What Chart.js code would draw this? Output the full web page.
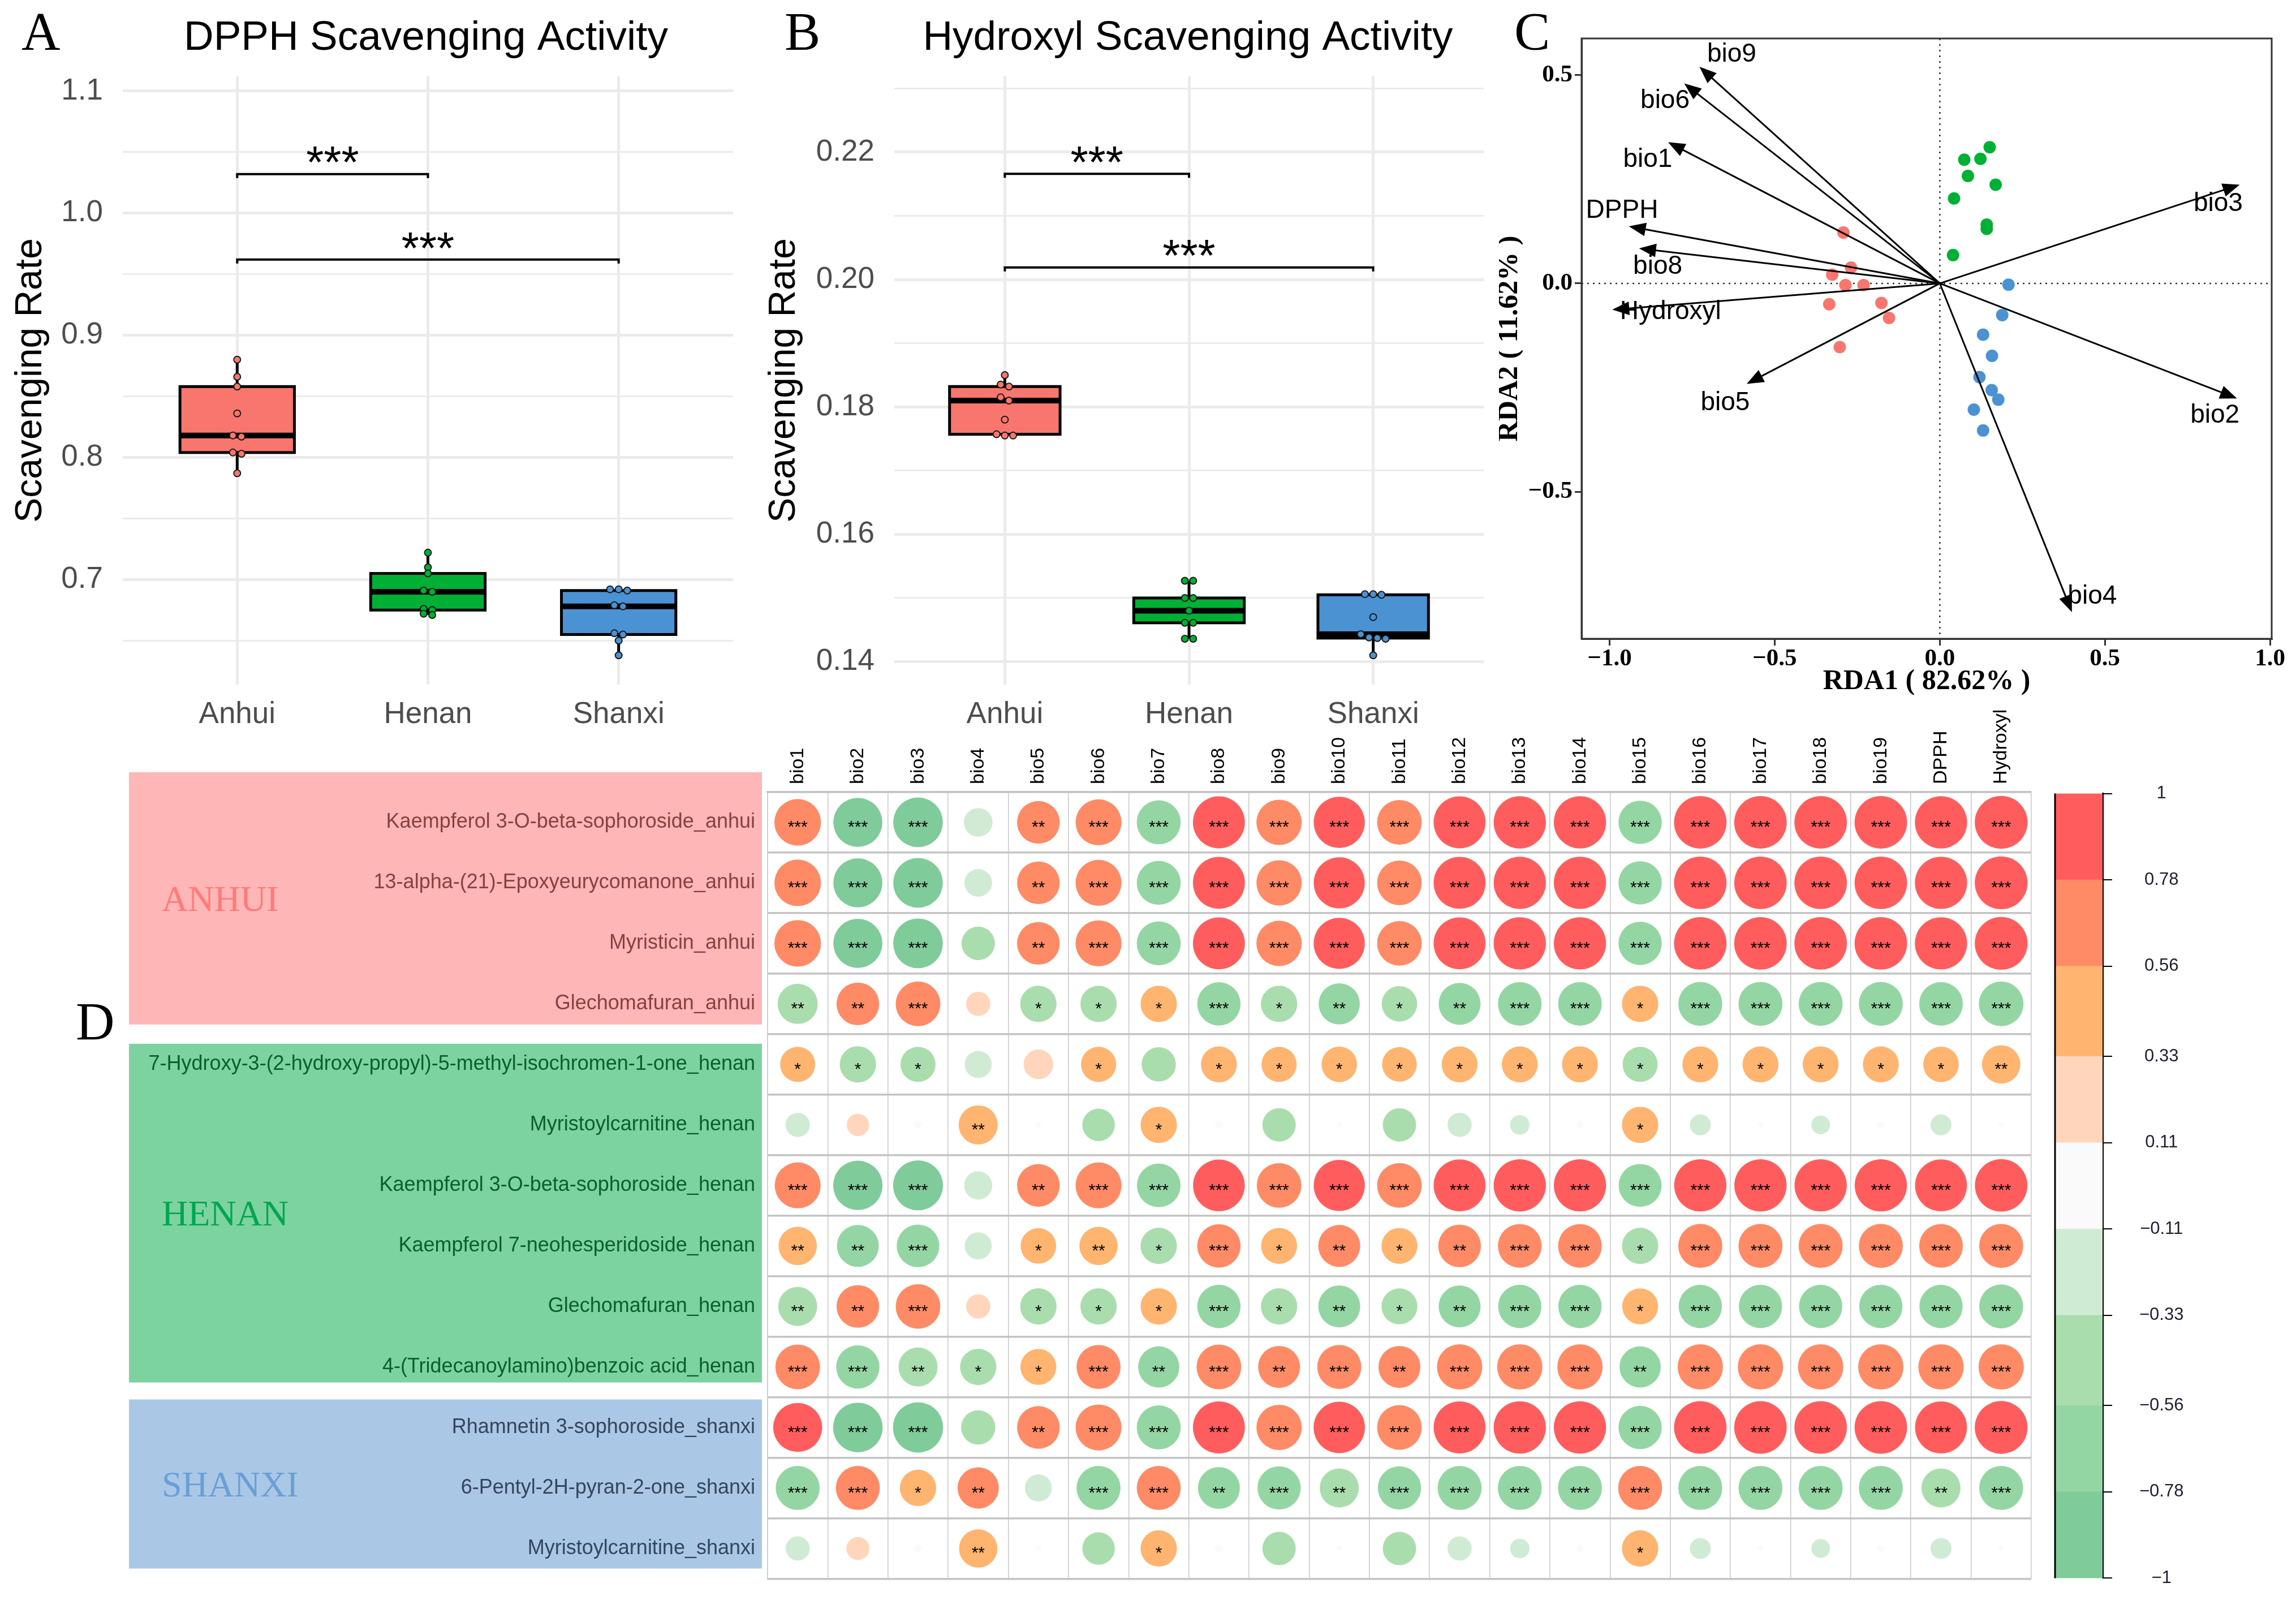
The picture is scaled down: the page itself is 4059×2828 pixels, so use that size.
<!DOCTYPE html>
<html lang="en">
<head>
<meta charset="UTF-8">
<title>Scavenging activity, RDA and metabolite-climate correlations</title>
<script src="https://cdn.jsdelivr.net/npm/chart.js"></script>
<style>
  html, body { margin: 0; padding: 0; background: #fff; }
  #page { position: relative; width: 4059px; height: 2828px; overflow: hidden; background: #fff; }
  canvas { position: absolute; }
</style>
</head>
<body>
<div id="page">
  <canvas id="chartA" width="1320" height="1300" style="left:0;top:0"></canvas>
  <canvas id="chartB" width="1320" height="1300" style="left:1320px;top:0"></canvas>
  <canvas id="chartC" width="1409" height="1260" style="left:2650px;top:0"></canvas>
  <canvas id="chartD" width="3600" height="1594" style="left:0;top:1240px"></canvas>
  <canvas id="chartBar" width="459" height="1520" style="left:3600px;top:1336px"></canvas>
</div>
<script>
// ---------- data ----------
const groups = ['Anhui', 'Henan', 'Shanxi'];

// A: DPPH scavenging rate, 9 samples per origin
const dpphAnhui  = [0.880, 0.866, 0.858, 0.836, 0.818, 0.817, 0.804, 0.803, 0.787];
const dpphHenan  = [0.722, 0.710, 0.705, 0.691, 0.690, 0.676, 0.675, 0.672, 0.671];
const dpphShanxi = [0.692, 0.692, 0.691, 0.679, 0.678, 0.656, 0.655, 0.650, 0.638];
const dpphTicks = [0.7, 0.8, 0.9, 1.0, 1.1];
const dpphMinor = [0.65, 0.75, 0.85, 0.95, 1.05];
const dpphSigY = [1.032, 0.962];

// B: hydroxyl scavenging rate
const hydroxylAnhui  = [0.1850, 0.1835, 0.1832, 0.1815, 0.1810, 0.1780, 0.1757, 0.1755, 0.1755];
const hydroxylHenan  = [0.1527, 0.1527, 0.1500, 0.1500, 0.1480, 0.1461, 0.1461, 0.1436, 0.1436];
const hydroxylShanxi = [0.1506, 0.1506, 0.1505, 0.1470, 0.1443, 0.1438, 0.1437, 0.1436, 0.1410];
const hydroxylTicks = [0.14, 0.16, 0.18, 0.20, 0.22];
const hydroxylMinor = [0.15, 0.17, 0.19, 0.21, 0.23];
const hydroxylSigY = [0.2166, 0.2019];

const sigPairs = [[1, 2], [1, 3]];
const sigLabels = ['***', '***'];

// C: RDA site scores
const rdaAnhuiX  = [-0.292, -0.269, -0.326, -0.286, -0.231, -0.335, -0.177, -0.154, -0.303];
const rdaAnhuiY  = [0.122, 0.038, 0.021, -0.004, -0.004, -0.050, -0.047, -0.083, -0.153];
const rdaHenanX  = [0.151, 0.074, 0.123, 0.085, 0.169, 0.043, 0.142, 0.142, 0.040];
const rdaHenanY  = [0.327, 0.297, 0.299, 0.258, 0.237, 0.204, 0.141, 0.131, 0.068];
const rdaShanxiX = [0.208, 0.189, 0.131, 0.158, 0.120, 0.157, 0.177, 0.103, 0.131];
const rdaShanxiY = [-0.003, -0.076, -0.123, -0.174, -0.225, -0.256, -0.279, -0.303, -0.353];
// C: RDA variable loadings
const envNames = ['bio9', 'bio6', 'bio1', 'DPPH', 'bio8', 'Hydroxyl', 'bio5', 'bio3', 'bio2', 'bio4'];
const envX = [-0.728, -0.774, -0.823, -0.942, -0.911, -0.992, -0.585, 0.908, 0.900, 0.400];
const envY = [0.520, 0.480, 0.339, 0.137, 0.084, -0.063, -0.241, 0.237, -0.276, -0.789];
const rdaXTicks = [-1, -0.5, 0, 0.5, 1];
const rdaYTicks = [-0.5, 0, 0.5];

// D: correlation of metabolites with climate variables
const metabolites = [
  'Kaempferol 3-O-beta-sophoroside_anhui',
  '13-alpha-(21)-Epoxyeurycomanone_anhui',
  'Myristicin_anhui',
  'Glechomafuran_anhui',
  '7-Hydroxy-3-(2-hydroxy-propyl)-5-methyl-isochromen-1-one_henan',
  'Myristoylcarnitine_henan',
  'Kaempferol 3-O-beta-sophoroside_henan',
  'Kaempferol 7-neohesperidoside_henan',
  'Glechomafuran_henan',
  '4-(Tridecanoylamino)benzoic acid_henan',
  'Rhamnetin 3-sophoroside_shanxi',
  '6-Pentyl-2H-pyran-2-one_shanxi',
  'Myristoylcarnitine_shanxi'
];
const rowGroup = [0, 0, 0, 0, 1, 1, 1, 1, 1, 1, 2, 2, 2];
const groupNames = ['ANHUI', 'HENAN', 'SHANXI'];
const climateVars = ['bio1', 'bio2', 'bio3', 'bio4', 'bio5', 'bio6', 'bio7', 'bio8', 'bio9', 'bio10',
  'bio11', 'bio12', 'bio13', 'bio14', 'bio15', 'bio16', 'bio17', 'bio18', 'bio19', 'DPPH', 'Hydroxyl'];
const corrValues = [
  [0.74, -0.82, -0.84, -0.28, 0.62, 0.72, -0.66, 0.92, 0.70, 0.89, 0.68, 0.92, 0.93, 0.93, -0.64, 0.94, 0.94, 0.94, 0.94, 0.93, 0.95],
  [0.74, -0.82, -0.84, -0.26, 0.62, 0.72, -0.66, 0.92, 0.70, 0.89, 0.68, 0.92, 0.93, 0.93, -0.64, 0.94, 0.94, 0.94, 0.94, 0.93, 0.95],
  [0.74, -0.82, -0.84, -0.38, 0.62, 0.72, -0.66, 0.92, 0.70, 0.89, 0.68, 0.92, 0.93, 0.93, -0.64, 0.94, 0.94, 0.94, 0.94, 0.93, 0.95],
  [-0.55, 0.62, 0.68, 0.20, -0.45, -0.45, 0.45, -0.64, -0.45, -0.58, -0.43, -0.60, -0.65, -0.65, 0.45, -0.66, -0.66, -0.66, -0.66, -0.65, -0.68],
  [0.42, -0.45, -0.42, -0.25, 0.30, 0.42, -0.40, 0.44, 0.42, 0.43, 0.41, 0.44, 0.44, 0.44, -0.42, 0.44, 0.44, 0.44, 0.44, 0.43, 0.50],
  [-0.20, 0.17, 0.02, 0.52, 0.01, -0.36, 0.45, 0.02, -0.38, 0.01, -0.38, -0.20, -0.13, 0.02, 0.45, -0.15, 0.01, -0.12, 0.02, -0.15, 0.01],
  [0.72, -0.83, -0.85, -0.27, 0.62, 0.72, -0.65, 0.91, 0.68, 0.89, 0.68, 0.92, 0.93, 0.93, -0.63, 0.93, 0.93, 0.93, 0.93, 0.92, 0.94],
  [0.50, -0.60, -0.62, -0.25, 0.43, 0.50, -0.45, 0.64, 0.44, 0.60, 0.44, 0.62, 0.65, 0.65, -0.45, 0.66, 0.66, 0.66, 0.66, 0.65, 0.66],
  [-0.52, 0.62, 0.68, 0.20, -0.45, -0.45, 0.45, -0.64, -0.45, -0.60, -0.44, -0.60, -0.64, -0.64, 0.44, -0.64, -0.64, -0.64, -0.64, -0.64, -0.66],
  [0.68, -0.64, -0.52, -0.45, 0.44, 0.66, -0.58, 0.68, 0.60, 0.66, 0.60, 0.70, 0.70, 0.70, -0.58, 0.70, 0.70, 0.70, 0.70, 0.70, 0.70],
  [0.82, -0.84, -0.86, -0.40, 0.62, 0.72, -0.66, 0.92, 0.70, 0.90, 0.68, 0.92, 0.93, 0.93, -0.64, 0.94, 0.94, 0.94, 0.94, 0.92, 0.95],
  [-0.66, 0.66, 0.45, 0.58, -0.25, -0.66, 0.66, -0.60, -0.64, -0.52, -0.64, -0.66, -0.66, -0.66, 0.66, -0.66, -0.66, -0.66, -0.66, -0.52, -0.66],
  [-0.20, 0.18, 0.02, 0.50, 0.01, -0.36, 0.45, 0.02, -0.38, 0.01, -0.38, -0.20, -0.13, 0.02, 0.45, -0.15, 0.01, -0.12, 0.02, -0.15, 0.01]
];
// number of significance stars per cell
const corrStars = [
  [3, 3, 3, 0, 2, 3, 3, 3, 3, 3, 3, 3, 3, 3, 3, 3, 3, 3, 3, 3, 3],
  [3, 3, 3, 0, 2, 3, 3, 3, 3, 3, 3, 3, 3, 3, 3, 3, 3, 3, 3, 3, 3],
  [3, 3, 3, 0, 2, 3, 3, 3, 3, 3, 3, 3, 3, 3, 3, 3, 3, 3, 3, 3, 3],
  [2, 2, 3, 0, 1, 1, 1, 3, 1, 2, 1, 2, 3, 3, 1, 3, 3, 3, 3, 3, 3],
  [1, 1, 1, 0, 0, 1, 0, 1, 1, 1, 1, 1, 1, 1, 1, 1, 1, 1, 1, 1, 2],
  [0, 0, 0, 2, 0, 0, 1, 0, 0, 0, 0, 0, 0, 0, 1, 0, 0, 0, 0, 0, 0],
  [3, 3, 3, 0, 2, 3, 3, 3, 3, 3, 3, 3, 3, 3, 3, 3, 3, 3, 3, 3, 3],
  [2, 2, 3, 0, 1, 2, 1, 3, 1, 2, 1, 2, 3, 3, 1, 3, 3, 3, 3, 3, 3],
  [2, 2, 3, 0, 1, 1, 1, 3, 1, 2, 1, 2, 3, 3, 1, 3, 3, 3, 3, 3, 3],
  [3, 3, 2, 1, 1, 3, 2, 3, 2, 3, 2, 3, 3, 3, 2, 3, 3, 3, 3, 3, 3],
  [3, 3, 3, 0, 2, 3, 3, 3, 3, 3, 3, 3, 3, 3, 3, 3, 3, 3, 3, 3, 3],
  [3, 3, 1, 2, 0, 3, 3, 2, 3, 2, 3, 3, 3, 3, 3, 3, 3, 3, 3, 2, 3],
  [0, 0, 0, 2, 0, 0, 1, 0, 0, 0, 0, 0, 0, 0, 1, 0, 0, 0, 0, 0, 0]
];
const colorBreaks = [-1, -0.78, -0.56, -0.33, -0.11, 0.11, 0.33, 0.56, 0.78, 1];
const colorbarLabels = ['\u22121', '\u22120.78', '\u22120.56', '\u22120.33', '\u22120.11', '0.11', '0.33', '0.56', '0.78', '1'];

// ---------- styles ----------
const SANS = "'Liberation Sans', Arial, Helvetica, sans-serif";
const SERIF = "'Liberation Serif', 'Times New Roman', serif";
const groupColors = ['#F8766D', '#00B034', '#4B92D3'];
const bandColors = ['#7FCB9A', '#94D6A3', '#AADDAD', '#D0EBD3', '#FAFAFA', '#FFD6BB', '#FFB46F', '#FF8A66', '#FF5D5D'];
const groupBoxColors = ['#FFB6B6', '#7DD3A0', '#AAC8E5'];
const groupTextColors = ['#FF7A7A', '#00A650', '#6A9FD6'];
const rowLabelColors = ['#8B3E3E', '#0B5E2E', '#34455E'];
const groupBoxInset = [[-35, -17], [17, -26], [4, -18]];
const envLabelOffset = [[57, -22], [-34, 31], [-36, 31], [-12, -28], [33, 32], [103, 4], [-38, 34], [-38, 34], [-39, 30], [36, -28]];

Chart.defaults.font.family = SANS;

function bandColor(v) {
  for (let i = 0; i < bandColors.length; i++) {
    if (v <= colorBreaks[i + 1]) return bandColors[i];
  }
  return bandColors[bandColors.length - 1];
}

function quantile(s, p) {
  const h = (s.length - 1) * p;
  const lo = Math.floor(h);
  const hi = Math.min(lo + 1, s.length - 1);
  return s[lo] + (h - lo) * (s[hi] - s[lo]);
}

function boxStats(vals) {
  const s = [...vals].sort((a, b) => a - b);
  const q1 = quantile(s, 0.25), med = quantile(s, 0.5), q3 = quantile(s, 0.75);
  const iqr = q3 - q1;
  const lo = s.find(v => v >= q1 - 1.5 * iqr);
  const hi = [...s].reverse().find(v => v <= q3 + 1.5 * iqr);
  return { q1, med, q3, lo, hi };
}

// spread tied values a little sideways, like the dots in the figure
function jitterPoints(vals, xc, tol) {
  const s = [...vals].sort((a, b) => b - a);
  const pts = [];
  let i = 0;
  while (i < s.length) {
    let j = i;
    while (j + 1 < s.length && s[i] - s[j + 1] <= tol) j++;
    const n = j - i + 1;
    for (let k = 0; k < n; k++) pts.push({ x: xc + (k - (n - 1) / 2) * 0.045, y: s[i + k] });
    i = j + 1;
  }
  return pts;
}

function textPlugin(items) {
  return {
    id: 'texts',
    afterDraw(chart) {
      const ctx = chart.ctx;
      ctx.save();
      ctx.fillStyle = '#000';
      ctx.textBaseline = 'alphabetic';
      items.forEach(t => {
        ctx.font = t.font;
        ctx.textAlign = t.align || 'left';
        ctx.fillText(t.text, t.x, t.y);
      });
      ctx.restore();
    }
  };
}

function boxPlugin(series) {
  return {
    id: 'boxes',
    beforeDatasetsDraw(chart) {
      const { ctx, scales: { x, y } } = chart;
      series.forEach((vals, i) => {
        const b = boxStats(vals);
        const cx = x.getPixelForValue(i + 1);
        const half = x.getPixelForValue(i + 1.3) - cx;
        const top = y.getPixelForValue(b.q3), bot = y.getPixelForValue(b.q1);
        ctx.save();
        ctx.strokeStyle = '#000';
        ctx.lineWidth = 5;
        ctx.beginPath();
        ctx.moveTo(cx, y.getPixelForValue(b.hi)); ctx.lineTo(cx, top);
        ctx.moveTo(cx, bot); ctx.lineTo(cx, y.getPixelForValue(b.lo));
        ctx.stroke();
        ctx.fillStyle = groupColors[i];
        ctx.fillRect(cx - half, top, 2 * half, bot - top);
        ctx.strokeRect(cx - half, top, 2 * half, bot - top);
        const m = y.getPixelForValue(b.med);
        ctx.lineWidth = 10;
        ctx.beginPath();
        ctx.moveTo(cx - half, m); ctx.lineTo(cx + half, m);
        ctx.stroke();
        ctx.restore();
      });
    }
  };
}

function sigPlugin(levels) {
  return {
    id: 'sig',
    afterDatasetsDraw(chart) {
      const { ctx, scales: { x, y } } = chart;
      ctx.save();
      ctx.strokeStyle = '#000';
      ctx.fillStyle = '#000';
      ctx.lineWidth = 4;
      ctx.font = `80px ${SANS}`;
      ctx.textAlign = 'center';
      sigPairs.forEach((pair, k) => {
        const x1 = x.getPixelForValue(pair[0]), x2 = x.getPixelForValue(pair[1]);
        const yy = y.getPixelForValue(levels[k]);
        ctx.beginPath();
        ctx.moveTo(x1, yy + 7); ctx.lineTo(x1, yy); ctx.lineTo(x2, yy); ctx.lineTo(x2, yy + 7);
        ctx.stroke();
        ctx.fillText(sigLabels[k], (x1 + x2) / 2, yy - 40 + 0.585 * 80);
      });
      ctx.restore();
    }
  };
}

function buildBoxChart(id, series, major, minor, range, decimals, sigY, lay) {
  const tol = (range[1] - range[0]) * 0.008;
  const isMajor = v => major.some(m => Math.abs(m - v) < 1e-9);
  const datasets = series.map((vals, i) => ({
    data: jitterPoints(vals, i + 1, tol),
    pointRadius: 6, pointHoverRadius: 6,
    pointBackgroundColor: groupColors[i],
    pointBorderColor: '#1a1a1a', pointBorderWidth: 2
  }));
  return new Chart(document.getElementById(id), {
    type: 'scatter',
    data: { datasets },
    options: {
      responsive: false, animation: false, devicePixelRatio: 1, events: [],
      layout: { padding: { top: 135, right: lay.right, left: 0, bottom: 0 } },
      plugins: { legend: { display: false }, tooltip: { enabled: false } },
      scales: {
        x: {
          min: 0.4, max: 3.6,
          afterBuildTicks: s => { s.ticks = groups.map((g, i) => ({ value: i + 1 })); },
          afterFit: s => { s.height = 90; },
          grid: { color: '#EBEBEB', lineWidth: 5, drawTicks: false },
          border: { display: false },
          ticks: { callback: v => groups[Math.round(v) - 1], color: '#4D4D4D', font: { size: 53 }, padding: 22 }
        },
        y: {
          min: range[0], max: range[1],
          afterBuildTicks: s => { s.ticks = [...major, ...minor].sort((a, b) => a - b).map(v => ({ value: v })); },
          afterFit: s => { s.width = lay.yWidth; },
          grid: { color: '#EBEBEB', lineWidth: c => (c.tick && isMajor(c.tick.value)) ? 5 : 3, drawTicks: false },
          border: { display: false },
          ticks: { callback: v => isMajor(v) ? v.toFixed(decimals) : '', color: '#4D4D4D', font: { size: 53 }, padding: 35 },
          title: { display: true, text: 'Scavenging Rate', color: '#000', font: { size: 66 }, padding: { top: lay.titlePad, bottom: 0 } }
        }
      }
    },
    plugins: [boxPlugin(series), sigPlugin(sigY), textPlugin(lay.texts)]
  });
}

// ---------- A ----------
buildBoxChart('chartA', [dpphAnhui, dpphHenan, dpphShanxi], dpphTicks, dpphMinor, [0.614, 1.112], 1, dpphSigY, {
  right: 24, yWidth: 217, titlePad: 15,
  texts: [
    { text: 'A', x: 38, y: 88, font: `95px ${SERIF}` },
    { text: 'DPPH Scavenging Activity', x: 753, y: 88, font: `73px ${SANS}`, align: 'center' }
  ]
});

// ---------- B ----------
buildBoxChart('chartB', [hydroxylAnhui, hydroxylHenan, hydroxylShanxi], hydroxylTicks, hydroxylMinor, [0.1364, 0.2319], 2, hydroxylSigY, {
  right: 17, yWidth: 261, titlePad: 27,
  texts: [
    { text: 'B', x: 67, y: 88, font: `95px ${SERIF}` },
    { text: 'Hydroxyl Scavenging Activity', x: 780, y: 88, font: `73px ${SANS}`, align: 'center' }
  ]
});

// ---------- C ----------
function drawArrow(ctx, x0, y0, x1, y1) {
  const a = Math.atan2(y1 - y0, x1 - x0);
  const L = 30, W = 12;
  ctx.beginPath();
  ctx.moveTo(x0, y0);
  ctx.lineTo(x1 - L * 0.6 * Math.cos(a), y1 - L * 0.6 * Math.sin(a));
  ctx.stroke();
  ctx.beginPath();
  ctx.moveTo(x1, y1);
  ctx.lineTo(x1 - L * Math.cos(a) + W * Math.sin(a), y1 - L * Math.sin(a) - W * Math.cos(a));
  ctx.lineTo(x1 - L * Math.cos(a) - W * Math.sin(a), y1 - L * Math.sin(a) + W * Math.cos(a));
  ctx.closePath();
  ctx.fill();
}

const rdaPlugin = {
  id: 'rda',
  beforeDatasetsDraw(chart) {
    const { ctx, chartArea: a, scales: { x, y } } = chart;
    ctx.save();
    ctx.strokeStyle = '#333';
    ctx.lineWidth = 2.5;
    ctx.setLineDash([3, 7]);
    ctx.beginPath();
    ctx.moveTo(x.getPixelForValue(0), a.top); ctx.lineTo(x.getPixelForValue(0), a.bottom);
    ctx.moveTo(a.left, y.getPixelForValue(0)); ctx.lineTo(a.right, y.getPixelForValue(0));
    ctx.stroke();
    ctx.restore();
  },
  afterDatasetsDraw(chart) {
    const { ctx, chartArea: a, scales: { x, y } } = chart;
    const ox = x.getPixelForValue(0), oy = y.getPixelForValue(0);
    ctx.save();
    ctx.strokeStyle = '#000';
    ctx.fillStyle = '#000';
    ctx.lineWidth = 3;
    envNames.forEach((n, i) => {
      drawArrow(ctx, ox, oy, x.getPixelForValue(envX[i]), y.getPixelForValue(envY[i]));
    });
    ctx.font = `46px ${SANS}`;
    ctx.textAlign = 'center';
    ctx.textBaseline = 'middle';
    envNames.forEach((n, i) => {
      ctx.fillText(n, x.getPixelForValue(envX[i]) + envLabelOffset[i][0], y.getPixelForValue(envY[i]) + envLabelOffset[i][1]);
    });
    ctx.strokeStyle = '#333';
    ctx.lineWidth = 3;
    ctx.strokeRect(a.left, a.top, a.right - a.left, a.bottom - a.top);
    ctx.restore();
  }
};

const fmtSigned = v => (v < 0 ? '\u2212' : '') + Math.abs(v).toFixed(1);

new Chart(document.getElementById('chartC'), {
  type: 'scatter',
  data: {
    datasets: [
      { data: rdaAnhuiX.map((v, i) => ({ x: v, y: rdaAnhuiY[i] })), pointBackgroundColor: groupColors[0] },
      { data: rdaHenanX.map((v, i) => ({ x: v, y: rdaHenanY[i] })), pointBackgroundColor: groupColors[1] },
      { data: rdaShanxiX.map((v, i) => ({ x: v, y: rdaShanxiY[i] })), pointBackgroundColor: groupColors[2] }
    ].map(d => Object.assign(d, { pointRadius: 11, pointHoverRadius: 11, pointBorderWidth: 0 }))
  },
  options: {
    responsive: false, animation: false, devicePixelRatio: 1, events: [],
    layout: { padding: { top: 68, right: 43, left: 0, bottom: 0 } },
    plugins: { legend: { display: false }, tooltip: { enabled: false } },
    scales: {
      x: {
        min: -1.085, max: 1.005,
        afterBuildTicks: s => { s.ticks = rdaXTicks.map(v => ({ value: v })); },
        afterFit: s => { s.height = 131; },
        grid: { drawOnChartArea: false, color: '#333', lineWidth: 3, tickLength: 12 },
        border: { color: '#333', width: 3 },
        ticks: { callback: fmtSigned, color: '#000', font: { family: SERIF, size: 43, weight: 'bold', lineHeight: 1 }, padding: 2 },
        title: { display: true, text: 'RDA1 ( 82.62% )', color: '#000', font: { family: SERIF, size: 50, weight: 'bold', lineHeight: 1 }, padding: { top: 0, bottom: 30 } }
      },
      y: {
        min: -0.853, max: 0.588,
        afterBuildTicks: s => { s.ticks = rdaYTicks.map(v => ({ value: v })); },
        afterFit: s => { s.width = 146; },
        grid: { drawOnChartArea: false, color: '#333', lineWidth: 3, tickLength: 12 },
        border: { color: '#333', width: 3 },
        ticks: { callback: fmtSigned, color: '#000', font: { family: SERIF, size: 43, weight: 'bold' }, padding: 4 },
        title: { display: true, text: 'RDA2 ( 11.62% )', color: '#000', font: { family: SERIF, size: 50, weight: 'bold', lineHeight: 0.76 }, padding: { top: 0, bottom: 0 } }
      }
    }
  },
  plugins: [rdaPlugin, textPlugin([{ text: 'C', x: 27, y: 88, font: `95px ${SERIF}` }])]
});

// ---------- D ----------
const corrPoints = [];
metabolites.forEach((m, i) => {
  climateVars.forEach((c, j) => {
    corrPoints.push({ x: c, y: m, v: corrValues[i][j], stars: corrStars[i][j] });
  });
});

function cellRadius(chart) {
  const { x, y } = chart.scales;
  const w = (x.right - x.left) / climateVars.length;
  const h = (y.bottom - y.top) / metabolites.length;
  return 0.45 * Math.min(w, h);
}

const groupBoxPlugin = {
  id: 'groupBoxes',
  beforeDraw(chart) {
    const { ctx, scales: { y } } = chart;
    const rowH = (y.bottom - y.top) / metabolites.length;
    ctx.save();
    groupNames.forEach((g, gi) => {
      const rows = rowGroup.map((r, i) => (r === gi ? i : -1)).filter(i => i >= 0);
      const top = y.top + rows[0] * rowH + groupBoxInset[gi][0];
      const bottom = y.top + (rows[rows.length - 1] + 1) * rowH + groupBoxInset[gi][1];
      ctx.fillStyle = groupBoxColors[gi];
      ctx.fillRect(228, top, 1347 - 228, bottom - top);
      ctx.fillStyle = groupTextColors[gi];
      ctx.font = `64px ${SERIF}`;
      ctx.textAlign = 'left';
      ctx.textBaseline = 'alphabetic';
      ctx.fillText(g, 286, (top + bottom) / 2 + 22);
    });
    ctx.restore();
  }
};

const starsPlugin = {
  id: 'stars',
  afterDatasetsDraw(chart) {
    const ctx = chart.ctx;
    const meta = chart.getDatasetMeta(0);
    const fs = 30;
    ctx.save();
    ctx.fillStyle = '#000';
    ctx.font = `${fs}px ${SANS}`;
    ctx.textAlign = 'center';
    ctx.textBaseline = 'alphabetic';
    meta.data.forEach((pt, k) => {
      const n = corrPoints[k].stars;
      if (n > 0) ctx.fillText('*'.repeat(n), pt.x, pt.y + 0.585 * fs);
    });
    ctx.restore();
  }
};

new Chart(document.getElementById('chartD'), {
  type: 'scatter',
  data: {
    datasets: [{
      data: corrPoints,
      pointRadius: c => cellRadius(c.chart) * Math.sqrt(Math.abs(c.raw.v)),
      pointHoverRadius: c => cellRadius(c.chart) * Math.sqrt(Math.abs(c.raw.v)),
      pointBackgroundColor: c => bandColor(c.raw.v),
      pointBorderWidth: 0
    }]
  },
  options: {
    responsive: false, animation: false, devicePixelRatio: 1, events: [],
    layout: { padding: { top: 0, right: 9, bottom: 0, left: 0 } },
    plugins: { legend: { display: false }, tooltip: { enabled: false } },
    scales: {
      x: {
        type: 'category', labels: climateVars, position: 'top', offset: true,
        afterFit: s => { s.height = 160; },
        grid: { offset: true, color: '#C8C8C8', lineWidth: 1.5, drawTicks: false },
        border: { color: '#C4C4C4', width: 3.5 },
        ticks: { minRotation: 90, maxRotation: 90, autoSkip: false, padding: 14, labelOffset: 41, color: '#000', font: { size: 34 } }
      },
      y: {
        type: 'category', labels: metabolites, offset: true,
        afterFit: s => { s.width = 1357; },
        grid: { offset: true, color: '#C4C4C4', lineWidth: 3.5, drawTicks: false },
        border: { color: '#C8C8C8', width: 1.5 },
        ticks: { autoSkip: false, padding: 22, color: c => rowLabelColors[rowGroup[c.index]], font: { size: 36 } }
      }
    }
  },
  plugins: [groupBoxPlugin, starsPlugin, textPlugin([{ text: 'D', x: 134, y: 598, font: `95px ${SERIF}` }])]
});

// ---------- colour bar ----------
const barEdgePlugin = {
  id: 'barEdge',
  afterDraw(chart) {
    const { ctx, chartArea: a } = chart;
    ctx.save();
    ctx.strokeStyle = '#000';
    ctx.lineWidth = 3;
    ctx.beginPath();
    ctx.moveTo(a.left, a.top); ctx.lineTo(a.left, a.bottom);
    ctx.stroke();
    ctx.restore();
  }
};

new Chart(document.getElementById('chartBar'), {
  type: 'bar',
  data: {
    labels: [''],
    datasets: bandColors.map((col, i) => ({
      data: [[colorBreaks[i], colorBreaks[i + 1]]],
      backgroundColor: col, borderWidth: 0,
      barPercentage: 1, categoryPercentage: 1, grouped: false
    }))
  },
  options: {
    responsive: false, animation: false, devicePixelRatio: 1, events: [],
    layout: { padding: { left: 33, top: 0, bottom: 0, right: 0 } },
    plugins: { legend: { display: false }, tooltip: { enabled: false } },
    scales: {
      x: { display: false },
      y: {
        position: 'right', min: -1, max: 1,
        afterBuildTicks: s => { s.ticks = colorBreaks.map(v => ({ value: v })); },
        afterFit: s => { s.width = 342; },
        grid: { drawOnChartArea: false, color: '#000', lineWidth: 2, tickLength: 17 },
        border: { color: '#000', width: 3 },
        ticks: { callback: (v, i) => colorbarLabels[i], color: '#1E1E2E', font: { size: 31 }, padding: 48, crossAlign: 'center' }
      }
    }
  },
  plugins: [barEdgePlugin]
});
</script>
</body>
</html>
